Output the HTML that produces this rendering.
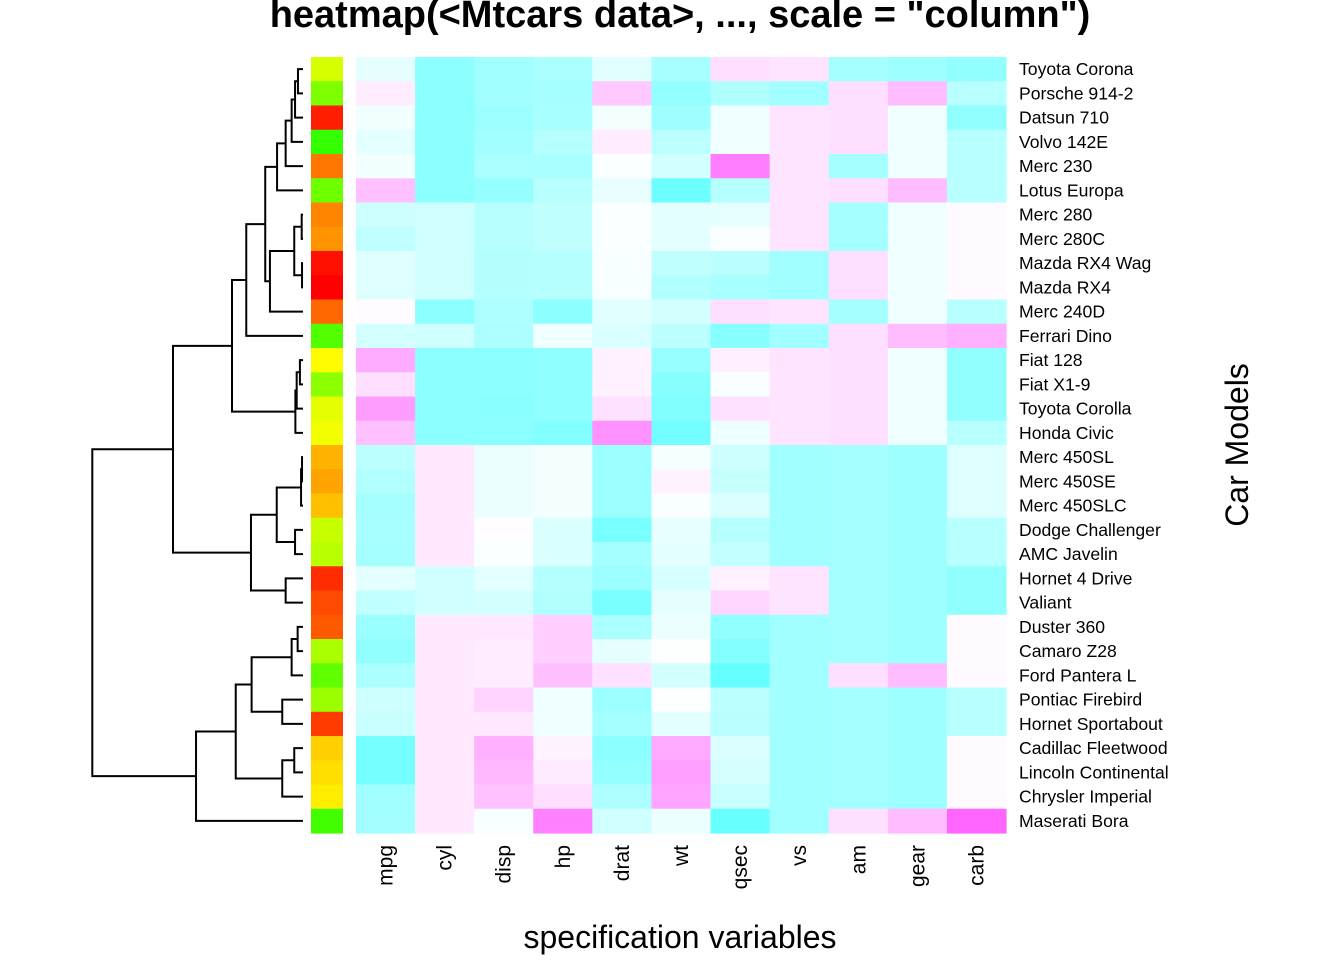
<!DOCTYPE html>
<html><head><meta charset="utf-8">
<style>
html,body{margin:0;padding:0;background:#fff;}
svg{display:block;font-family:"Liberation Sans",Arial,sans-serif;}
</style></head>
<body>
<svg id="chart" width="1344" height="960" viewBox="0 0 1344 960">
<text x="680" y="27" text-anchor="middle" font-size="38" font-weight="bold">heatmap(&lt;Mtcars data&gt;, ..., scale = "column")</text>
<text x="680" y="948" text-anchor="middle" font-size="32">specification variables</text>
<text transform="translate(1248,445) rotate(-90)" text-anchor="middle" font-size="32">Car Models</text>
<g id="cells"></g>
<g id="side"></g>
<g id="rowlabels"></g>
<g id="collabels"></g>
<g id="dendro" stroke="#000" stroke-width="2" fill="none"></g>
</svg>
<script>
const rowNames = ["Toyota Corona","Porsche 914-2","Datsun 710","Volvo 142E","Merc 230","Lotus Europa","Merc 280","Merc 280C","Mazda RX4 Wag","Mazda RX4","Merc 240D","Ferrari Dino","Fiat 128","Fiat X1-9","Toyota Corolla","Honda Civic","Merc 450SL","Merc 450SE","Merc 450SLC","Dodge Challenger","AMC Javelin","Hornet 4 Drive","Valiant","Duster 360","Camaro Z28","Ford Pantera L","Pontiac Firebird","Hornet Sportabout","Cadillac Fleetwood","Lincoln Continental","Chrysler Imperial","Maserati Bora"];
const origIndex = [21,27,3,32,9,28,10,11,2,1,8,30,18,26,20,19,13,12,14,22,23,4,6,7,24,29,25,5,15,16,17,31];
const colNames = ["mpg","cyl","disp","hp","drat","wt","qsec","vs","am","gear","carb"];
const mpg = [21.5,26,22.8,21.4,22.8,30.4,19.2,17.8,21,21,24.4,19.7,32.4,27.3,33.9,30.4,17.3,16.4,15.2,15.5,15.2,21.4,18.1,14.3,13.3,15.8,19.2,18.7,10.4,10.4,14.7,15];
const cyl = [4,4,4,4,4,4,6,6,6,6,4,6,4,4,4,4,8,8,8,8,8,6,6,8,8,8,8,8,8,8,8,8];
const disp = [120.1,120.3,108,121,140.8,95.1,167.6,167.6,160,160,146.7,145,78.7,79,71.1,75.7,275.8,275.8,275.8,318,304,258,225,360,350,351,400,360,472,460,440,301];
const hp = [97,91,93,109,95,113,123,123,110,110,62,175,66,66,65,52,180,180,180,150,150,110,105,245,245,264,175,175,205,215,230,335];
const drat = [3.70,4.43,3.85,4.11,3.92,3.77,3.92,3.92,3.90,3.90,3.69,3.62,4.08,4.08,4.22,4.93,3.07,3.07,3.07,2.76,3.15,3.08,2.76,3.21,3.73,4.22,3.08,3.15,2.93,3.00,3.23,3.54];
const wt = [2.465,2.140,2.320,2.780,3.150,1.513,3.440,3.440,2.875,2.620,3.190,2.770,2.200,1.935,1.835,1.615,3.730,4.070,3.780,3.520,3.435,3.215,3.460,3.570,3.840,3.170,3.845,3.440,5.250,5.424,5.345,3.570];
const qsec = [20.01,16.70,18.61,18.60,22.90,16.90,18.30,18.90,17.02,16.46,20.00,15.50,19.47,18.90,19.90,18.52,17.60,17.40,18.00,16.87,17.30,19.44,20.22,15.84,15.41,14.50,17.05,17.02,17.98,17.82,17.42,14.60];
const vs = [1,0,1,1,1,1,1,1,0,0,1,0,1,1,1,1,0,0,0,0,0,1,1,0,0,0,0,0,0,0,0,0];
const am = [0,1,1,1,0,1,0,0,1,1,0,1,1,1,1,1,0,0,0,0,0,0,0,0,0,1,0,0,0,0,0,1];
const gear = [3,5,4,4,4,5,4,4,4,4,4,5,4,4,4,4,3,3,3,3,3,3,3,3,3,5,3,3,3,3,3,5];
const carb = [1,2,1,2,2,2,4,4,4,4,2,6,1,1,1,2,3,3,3,2,2,1,1,4,4,4,2,2,4,4,4,8];
// dendrogram merges: [childA, childB, height]; leaves 0..31, merges numbered from 32
const merges = [[0,1,0.31],[32,2,0.49],[33,3,0.70],[34,4,1.07],[35,5,1.60],[6,7,0.08],[8,9,0.06],[37,38,0.54],[39,10,2.04],[36,40,2.33],[41,11,3.50],[12,13,0.19],[43,14,0.39],[44,15,0.47],[42,45,4.38],[16,17,0.06],[47,18,0.12],[19,20,0.49],[48,49,1.62],[21,22,1.07],[50,51,3.21],[46,52,8.02],[23,24,0.33],[54,25,0.70],[26,27,1.28],[55,56,3.17],[28,29,0.54],[58,30,1.28],[57,59,4.15],[60,31,6.6],[53,61,13]];

const NS="http://www.w3.org/2000/svg";
const cols=[mpg,cyl,disp,hp,drat,wt,qsec,vs,am,gear,carb];
const X0=356,X1=1006,Y0=57,Y1=833;
const nR=rowNames.length,nC=colNames.length;
const cw=(X1-X0)/nC,rh=(Y1-Y0)/nR;
const yc=i=>Y0+rh*(i+0.5);
function mk(tag,attrs,parent){const e=document.createElementNS(NS,tag);for(const k in attrs)e.setAttribute(k,attrs[k]);parent.appendChild(e);return e;}
function hsv(h,s,v){const f=(n)=>{const k=(n+h*6)%6;return v-v*s*Math.max(0,Math.min(k,4-k,1));};return `rgb(${Math.round(f(5)*255)},${Math.round(f(3)*255)},${Math.round(f(1)*255)})`;}
const Z=cols.map(c=>{const m=c.reduce((a,b)=>a+b,0)/c.length;const sd=Math.sqrt(c.reduce((a,b)=>a+(b-m)*(b-m),0)/(c.length-1));return c.map(v=>(v-m)/sd);});
let zmin=Infinity,zmax=-Infinity;Z.forEach(c=>c.forEach(v=>{zmin=Math.min(zmin,v);zmax=Math.max(zmax,v);}));
const SMAX=0.6;
function cm(z){let k=Math.floor((z-zmin)/(zmax-zmin)*256);k=Math.max(0,Math.min(255,k));
 if(k<128){return hsv(0.5,SMAX*(1-k/128),1);} return hsv(10/12,SMAX*((k-127)/128),1);}
const gC=document.getElementById('cells');
for(let j=0;j<nC;j++)for(let i=0;i<nR;i++){
 const r=mk('rect',{x:(X0+j*cw).toFixed(2),y:(Y0+i*rh).toFixed(2),width:(cw+0.6).toFixed(2),height:(rh+0.6).toFixed(2),fill:cm(Z[j][i])},gC);
 
 
}
const gS=document.getElementById('side');
for(let i=0;i<nR;i++){
 const h=0.3*(origIndex[i]-1)/31;
 const r=mk('rect',{x:311,y:(Y0+i*rh).toFixed(2),width:32,height:(rh+0.6).toFixed(2),fill:hsv(h,1,1)},gS);
 
 
}
const gR=document.getElementById('rowlabels');
for(let i=0;i<nR;i++){
 const t=mk('text',{x:1019,y:(yc(i)+6).toFixed(2),'font-size':17.6},gR);t.textContent=rowNames[i];
 
 
}
const gL=document.getElementById('collabels');
for(let j=0;j<nC;j++){
 const cx=X0+cw*(j+0.5)+7;
 const t=mk('text',{transform:`translate(${cx.toFixed(2)},845) rotate(-90)`,'text-anchor':'end','font-size':21},gL);t.textContent=colNames[j];
 
 
}
const gD=document.getElementById('dendro');
const TIP=303,K=(303-92.3)/13;
const xh=h=>TIP-h*K;
const ny=[],nh=[];
for(let i=0;i<nR;i++){ny[i]=yc(i);nh[i]=0;}
merges.forEach((m,idx)=>{
 const id=nR+idx,a=m[0],b=m[1],x=xh(m[2]);
 ny[id]=(ny[a]+ny[b])/2;nh[id]=m[2];
 const p=mk('path',{d:`M${xh(nh[a]).toFixed(2)},${ny[a].toFixed(2)}H${x.toFixed(2)}V${ny[b].toFixed(2)}H${xh(nh[b]).toFixed(2)}`},gD);
 
 
});
</script>
</body></html>
